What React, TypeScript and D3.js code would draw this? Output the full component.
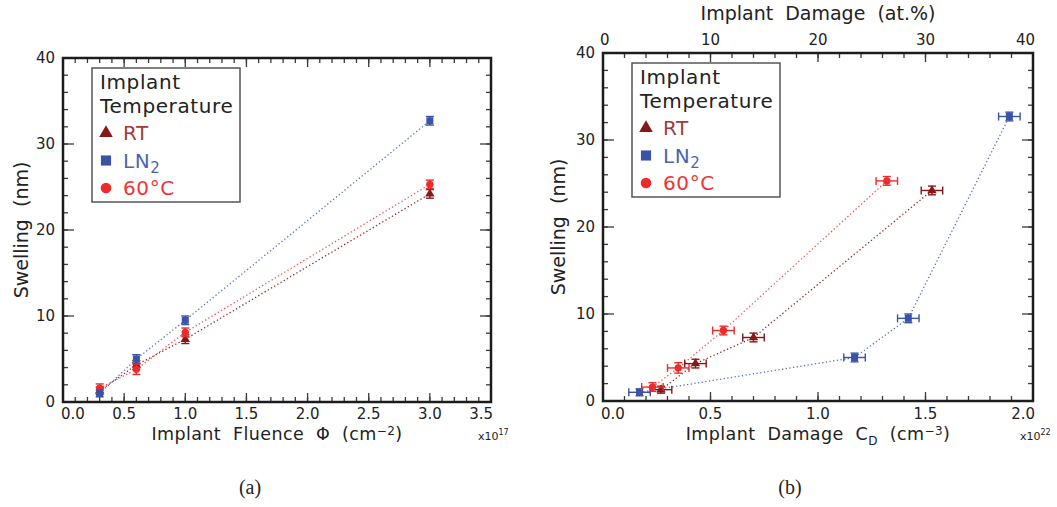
import React from 'react';
import * as d3 from 'd3';

// ---- data ----
const fluence = [0.3, 0.6, 1.0, 3.0]; // x10^17 cm^-2
const damageRT = [0.27, 0.43, 0.7, 1.53]; // x10^22 cm^-3
const damageLN2 = [0.17, 1.17, 1.42, 1.89];
const damage60 = [0.23, 0.35, 0.56, 1.32];
const swellRT = [1.3, 4.3, 7.3, 24.2]; // nm
const swellLN2 = [1.0, 5.0, 9.5, 32.7];
const swell60 = [1.6, 3.8, 8.1, 25.3];
const errRT = [0.4, 0.5, 0.5, 0.5];
const errLN2 = [0.4, 0.5, 0.5, 0.5];
const err60 = [0.5, 0.6, 0.5, 0.5];
const damageErr = [0.05, 0.05, 0.05, 0.05];
const yTickLabels = ['0', '10', '20', '30', '40'];
const fluenceTickLabels = ['0.0', '0.5', '1.0', '1.5', '2.0', '2.5', '3.0', '3.5'];
const damageTickLabels = ['0.0', '0.5', '1.0', '1.5', '2.0'];
const atPctTickLabels = ['0', '10', '20', '30', '40'];

const FONT = '"DejaVu Sans", sans-serif';

type Sym = 'tri' | 'sq' | 'circ';
type Series = {
  name: string;
  xs: number[];
  ys: number[];
  yerr: number[];
  xerr?: number[];
  color: string;
  lineColor: string;
  textColor: string;
  sym: Sym;
};

function symPath(sym: Sym, scale = 1) {
  const type = sym === 'tri' ? d3.symbolTriangle : sym === 'sq' ? d3.symbolSquare : d3.symbolCircle;
  const base = sym === 'tri' ? 38 : sym === 'sq' ? 49 : 42;
  return d3.symbol().type(type).size(base * scale * scale)() as string;
}

type PanelProps = {
  x0: number; x1: number; y0: number; y1: number;
  xMax: number; xMajorStep: number; xMinorStep: number;
  xLabels: string[];
  series: Series[];
  xTitle: React.ReactNode;
  expLabel: string;
  top?: { max: number; major: number; minor: number; labels: string[]; title: string };
  yTitleX: number;
};

function Panel(p: PanelProps) {
  const { x0, x1, y0, y1 } = p;
  const xs = d3.scaleLinear().domain([0, p.xMax]).range([x0, x1]);
  const ys = d3.scaleLinear().domain([0, 40]).range([y1, y0]);
  const nMinor = Math.round(p.xMax / p.xMinorStep);
  const xMinor = d3.range(0, nMinor + 1).map((i) => i * p.xMinorStep);
  const xMajor = p.xLabels.map((_, i) => i * p.xMajorStep);
  const yMinor = d3.range(0, 21).map((i) => i * 2);
  const yMajor = yTickLabels.map((_, i) => i * 10);
  const MAJ = 9, MIN = 5;
  const tickStroke = '#3a3a3a';
  const line = d3.line<[number, number]>().x((d) => xs(d[0])).y((d) => ys(d[1]));

  let topScale: d3.ScaleLinear<number, number> | null = null;
  let topMinor: number[] = [];
  let topMajor: number[] = [];
  if (p.top) {
    topScale = d3.scaleLinear().domain([0, p.top.max]).range([x0, x1]);
    topMinor = d3.range(0, Math.round(p.top.max / p.top.minor) + 1).map((i) => i * p.top!.minor);
    topMajor = p.top.labels.map((_, i) => i * p.top!.major);
  }

  const lx = x0 + 29, ly = y0 + 10;

  return (
    <g fontFamily={FONT}>
      {/* bottom ticks */}
      {xMinor.map((v, i) => (
        <line key={'bm' + i} x1={xs(v)} x2={xs(v)} y1={y1} y2={y1 - MIN} stroke={tickStroke} strokeWidth={1.3} />
      ))}
      {xMajor.map((v, i) => (
        <line key={'bM' + i} x1={xs(v)} x2={xs(v)} y1={y1} y2={y1 - MAJ} stroke={tickStroke} strokeWidth={1.3} />
      ))}
      {/* top ticks */}
      {p.top && topScale
        ? [
            ...topMinor.map((v, i) => (
              <line key={'tm' + i} x1={topScale!(v)} x2={topScale!(v)} y1={y0} y2={y0 + MIN} stroke={tickStroke} strokeWidth={1.3} />
            )),
            ...topMajor.map((v, i) => (
              <line key={'tM' + i} x1={topScale!(v)} x2={topScale!(v)} y1={y0} y2={y0 + MAJ} stroke={tickStroke} strokeWidth={1.3} />
            )),
          ]
        : [
            ...xMinor.map((v, i) => (
              <line key={'tm' + i} x1={xs(v)} x2={xs(v)} y1={y0} y2={y0 + MIN} stroke={tickStroke} strokeWidth={1.3} />
            )),
            ...xMajor.map((v, i) => (
              <line key={'tM' + i} x1={xs(v)} x2={xs(v)} y1={y0} y2={y0 + MAJ} stroke={tickStroke} strokeWidth={1.3} />
            )),
          ]}
      {/* y ticks left and right */}
      {yMinor.map((v, i) => (
        <g key={'ym' + i}>
          <line x1={x0} x2={x0 + MIN} y1={ys(v)} y2={ys(v)} stroke={tickStroke} strokeWidth={1.3} />
          <line x1={x1} x2={x1 - MIN} y1={ys(v)} y2={ys(v)} stroke={tickStroke} strokeWidth={1.3} />
        </g>
      ))}
      {yMajor.map((v, i) => (
        <g key={'yM' + i}>
          <line x1={x0} x2={x0 + MAJ + 2} y1={ys(v)} y2={ys(v)} stroke={tickStroke} strokeWidth={1.3} />
          <line x1={x1} x2={x1 - MAJ - 2} y1={ys(v)} y2={ys(v)} stroke={tickStroke} strokeWidth={1.3} />
        </g>
      ))}
      {/* frame */}
      <rect x={x0} y={y0} width={x1 - x0} height={y1 - y0} fill="none" stroke="#1c1c1c" strokeWidth={2.5} />

      {/* x tick labels */}
      {p.xLabels.map((t, i) => {
        const last = i === p.xLabels.length - 1;
        const anchor = i === 0 ? 'start' : last ? 'end' : 'middle';
        const x = i === 0 ? x0 - 2 : last ? x1 + 2 : xs(xMajor[i]);
        return (
          <text key={'xl' + i} x={x} y={419} fontSize={15} textAnchor={anchor} fill="#222">
            {t}
          </text>
        );
      })}
      {/* y tick labels */}
      {yTickLabels.map((t, i) => (
        <text key={'yl' + i} x={x0 - 8} y={ys(yMajor[i])} dy="0.36em" fontSize={15} textAnchor="end" fill="#222">
          {t}
        </text>
      ))}
      {/* top labels */}
      {p.top && topScale &&
        p.top.labels.map((t, i) => {
          const last = i === p.top!.labels.length - 1;
          const anchor = i === 0 ? 'start' : last ? 'end' : 'middle';
          const x = i === 0 ? x0 - 3 : last ? x1 + 2 : topScale!(topMajor[i]);
          return (
            <text key={'tl' + i} x={x} y={y0 - 8} fontSize={15} textAnchor={anchor} fill="#222">
              {t}
            </text>
          );
        })}
      {p.top && (
        <text x={(x0 + x1) / 2} y={20} fontSize={19} textAnchor="middle" fill="#222" style={{ whiteSpace: 'pre' }}>
          {p.top.title}
        </text>
      )}

      {/* titles */}
      <text
        transform={`translate(${p.yTitleX},${(y0 + y1) / 2}) rotate(-90)`}
        dy="0.36em"
        fontSize={19}
        textAnchor="middle"
        fill="#222"
        style={{ whiteSpace: 'pre' }}
      >
        {'Swelling  (nm)'}
      </text>
      <text x={(x0 + x1) / 2} y={440} fontSize={17.5} letterSpacing={0.4} textAnchor="middle" fill="#222" style={{ whiteSpace: 'pre' }}>
        {p.xTitle}
      </text>
      <text x={x1 - 13} y={440} fontSize={11} fill="#222">
        x10<tspan fontSize={8} dy={-5}>{p.expLabel}</tspan>
      </text>

      {/* lines */}
      {p.series.map((s, si) => (
        <path
          key={'ln' + si}
          d={line(s.xs.map((x, i) => [x, s.ys[i]] as [number, number])) as string}
          fill="none"
          stroke={s.lineColor}
          strokeWidth={1.3}
          strokeDasharray="1.3 2.4"
        />
      ))}
      {/* error bars and markers */}
      {p.series.map((s, si) => (
        <g key={'pt' + si}>
          {s.xs.map((x, i) => {
            const cx = xs(x), cy = ys(s.ys[i]);
            const yt = ys(s.ys[i] + s.yerr[i]), yb = ys(s.ys[i] - s.yerr[i]);
            const c = 4;
            return (
              <g key={i}>
                <line x1={cx} x2={cx} y1={yt} y2={yb} stroke={s.color} strokeWidth={1.4} />
                <line x1={cx - c} x2={cx + c} y1={yt} y2={yt} stroke={s.color} strokeWidth={1.4} />
                <line x1={cx - c} x2={cx + c} y1={yb} y2={yb} stroke={s.color} strokeWidth={1.4} />
                {s.xerr && (
                  <g>
                    <line x1={xs(x - s.xerr[i])} x2={xs(x + s.xerr[i])} y1={cy} y2={cy} stroke={s.color} strokeWidth={1.4} />
                    <line x1={xs(x - s.xerr[i])} x2={xs(x - s.xerr[i])} y1={cy - c} y2={cy + c} stroke={s.color} strokeWidth={1.4} />
                    <line x1={xs(x + s.xerr[i])} x2={xs(x + s.xerr[i])} y1={cy - c} y2={cy + c} stroke={s.color} strokeWidth={1.4} />
                  </g>
                )}
                <path d={symPath(s.sym)} transform={`translate(${cx},${cy})`} fill={s.color} />
              </g>
            );
          })}
        </g>
      ))}

      {/* legend */}
      <rect x={lx} y={ly} width={148} height={134} fill="white" stroke="#555" strokeWidth={1.5} />
      <text x={x0 + 37} y={y0 + 31} fontSize={20} letterSpacing={0.6} fill="#222">Implant</text>
      <text x={x0 + 37} y={y0 + 55} fontSize={20} letterSpacing={0.6} fill="#222">Temperature</text>
      {p.series.map((s, si) => {
        const order = s.sym === 'tri' ? 0 : s.sym === 'sq' ? 1 : 2;
        const by = y0 + 82 + order * 27.5;
        return (
          <g key={'lg' + si}>
            <path d={symPath(s.sym, 1.45)} transform={`translate(${x0 + 43},${by - 7})`} fill={s.color} />
            <text x={x0 + 60} y={by} fontSize={20} letterSpacing={0.6} fill={s.textColor}>
              {s.name === 'LN2' ? (
                <>
                  LN<tspan fontSize={15} dy={5}>2</tspan>
                </>
              ) : (
                s.name
              )}
            </text>
          </g>
        );
      })}
    </g>
  );
}

const colRT = '#861818';
const colLN2 = '#3953a6';
const col60 = '#ee2a2a';

export default function App() {
  const seriesA: Series[] = [
    { name: 'RT', xs: fluence, ys: swellRT, yerr: errRT, color: colRT, lineColor: '#8a2a2a', textColor: '#a03c3c', sym: 'tri' },
    { name: '60°C', xs: fluence, ys: swell60, yerr: err60, color: col60, lineColor: '#f05050', textColor: '#f03434', sym: 'circ' },
    { name: 'LN2', xs: fluence, ys: swellLN2, yerr: errLN2, color: colLN2, lineColor: '#5a70b8', textColor: '#4a64b2', sym: 'sq' },
  ];
  const seriesB: Series[] = [
    { name: 'RT', xs: damageRT, ys: swellRT, yerr: errRT, xerr: damageErr, color: colRT, lineColor: '#8a2a2a', textColor: '#a03c3c', sym: 'tri' },
    { name: 'LN2', xs: damageLN2, ys: swellLN2, yerr: errLN2, xerr: damageErr, color: colLN2, lineColor: '#5a70b8', textColor: '#4a64b2', sym: 'sq' },
    { name: '60°C', xs: damage60, ys: swell60, yerr: err60, xerr: damageErr, color: col60, lineColor: '#f05050', textColor: '#f03434', sym: 'circ' },
  ];
  return (
    <svg width={1057} height={507} style={{ position: 'absolute', left: 0, top: 0, background: 'white' }}>
      <rect x={0} y={0} width={1057} height={507} fill="white" />
      <Panel
        x0={63} x1={491} y0={58} y1={402}
        xMax={3.5} xMajorStep={0.5} xMinorStep={0.1}
        xLabels={fluenceTickLabels}
        series={seriesA}
        xTitle={<>{'Implant  Fluence  Φ  (cm'}<tspan fontSize={12} dy={-5.5}>−2</tspan><tspan dy={5.5}>)</tspan></>}
        expLabel="17"
        yTitleX={21}
      />
      <Panel
        x0={603} x1={1033} y0={53} y1={401}
        xMax={2.0} xMajorStep={0.5} xMinorStep={0.1}
        xLabels={damageTickLabels}
        series={seriesB}
        xTitle={<>{'Implant  Damage  C'}<tspan fontSize={12} dy={5}>D</tspan><tspan dy={-5}>{'  (cm'}</tspan><tspan fontSize={12} dy={-5.5}>−3</tspan><tspan dy={5.5}>)</tspan></>}
        expLabel="22"
        top={{ max: 40, major: 10, minor: 2, labels: atPctTickLabels, title: 'Implant  Damage  (at.%)' }}
        yTitleX={558}
      />
      <text x={250} y={494} fontSize={20} textAnchor="middle" fontFamily='"Liberation Serif", serif' fill="#222">(a)</text>
      <text x={790} y={494} fontSize={20} textAnchor="middle" fontFamily='"Liberation Serif", serif' fill="#222">(b)</text>
    </svg>
  );
}
